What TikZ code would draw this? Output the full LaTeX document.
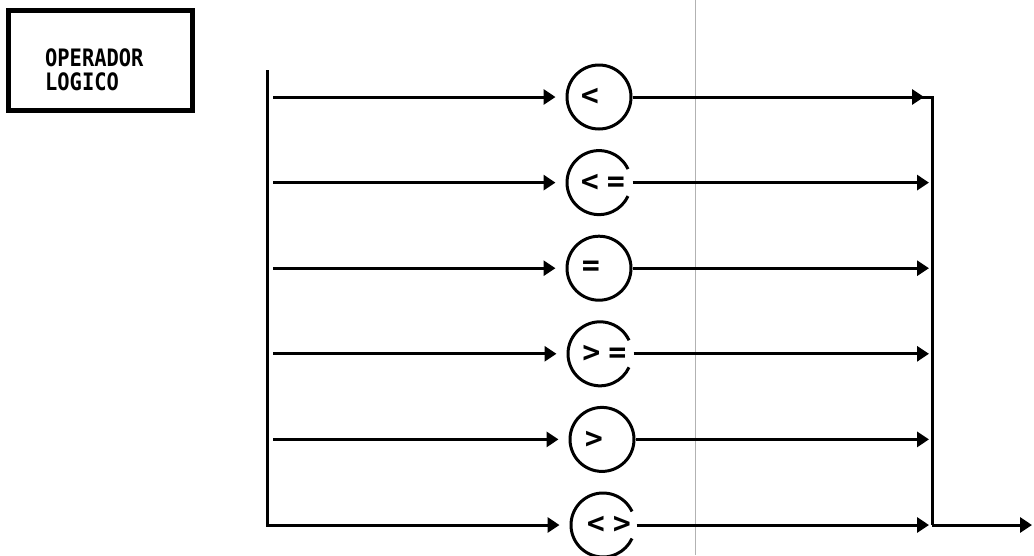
\documentclass[tikz,border=0pt]{standalone}
\usepackage{fontspec}
\newfontfamily\monofont{DejaVu Sans Mono}
\usetikzlibrary{arrows.meta}
\begin{document}
\begin{tikzpicture}[x=1pt,y=-1pt,
  ln/.style={line width=3pt},
  arr/.style={ln,-{Triangle[length=12pt,width=15pt]}},
  opcirc/.style={circle,minimum size=64pt,inner sep=0pt,line width=3pt},
  sym/.style={font=\monofont\bfseries\fontsize{30}{30}\selectfont,inner sep=0pt},
  lbl/.style={font=\monofont\bfseries\fontsize{24}{24}\selectfont,inner sep=0pt,align=left,xscale=0.85}]
\useasboundingbox (0,0) rectangle (1034,555);
% scan fold line
\draw[black!30,line width=0.8pt] (695,0) -- (695,555);
% title box
\node (box) [draw,line width=5pt,minimum width=184pt,minimum height=100pt,inner sep=0pt] at (100.5,60.5) {};
\node (title) [lbl,anchor=north west] at (45,48) {OPERADOR\\LOGICO};
% circles
\def\ya{97}\def\yb{182.6}\def\yc{268.2}\def\yd{353.8}\def\ye{439.4}\def\yf{525}
\node (c1) [opcirc,draw] at (599,\ya) {};
\node (c2) [opcirc] at (599,\yb) {};
\node (c3) [opcirc,draw] at (599,\yc) {};
\node (c4) [opcirc] at (600,\yd) {};
\node (c5) [opcirc,draw] at (602,\ye) {};
\node (c6) [opcirc] at (603,\yf) {};
\foreach \c in {c2,c4,c6}
  \draw[ln] ([shift={(25:32pt)}]\c.center) arc[start angle=25,end angle=335,radius=32pt];
% symbols
\node (t1) [sym] at (590,\ya) {<};
\node (t2) [sym] at (603,\yb) {<\kern8pt=};
\node (t3) [sym] at (591,\yc) {=};
\node (t4) [sym] at (604.5,\yd) {>\kern8pt=};
\node (t5) [sym] at (594,\ye) {>};
\node (t6) [sym] at (609,\yf) {<\kern8pt>};
% left rail
\coordinate (ltop) at (267,70);
\coordinate (s1) at (273,\ya);
\coordinate (s2) at (273,\yb);
\coordinate (s3) at (273,\yc);
\coordinate (s4) at (273,\yd);
\coordinate (s5) at (273,\ye);
\foreach \i in {1,...,5}
  \draw[arr,shorten >=10pt] (s\i) -- (c\i.west);
\draw[arr,shorten >=10pt] (ltop) |- (c6.west);
% right rail
\coordinate (cr) at (932,\ya);
\coordinate (cb) at (932,\yf);
\coordinate (out) at (1032,\yf);
\coordinate (e1) at (924,\ya);
\coordinate (e2) at (929,\yb);
\coordinate (e3) at (929,\yc);
\coordinate (e4) at (929,\yd);
\coordinate (e5) at (929,\ye);
\coordinate (e6) at (929,\yf);
\draw[ln] (c1.east) -- (cr) -- (cb);
\draw[arr] (c1.east) -- (e1);
\foreach \i in {2,...,6}
  \draw[arr] (c\i.east) -- (e\i);
\draw[arr] (cb) -- (out);
\end{tikzpicture}
\end{document}
